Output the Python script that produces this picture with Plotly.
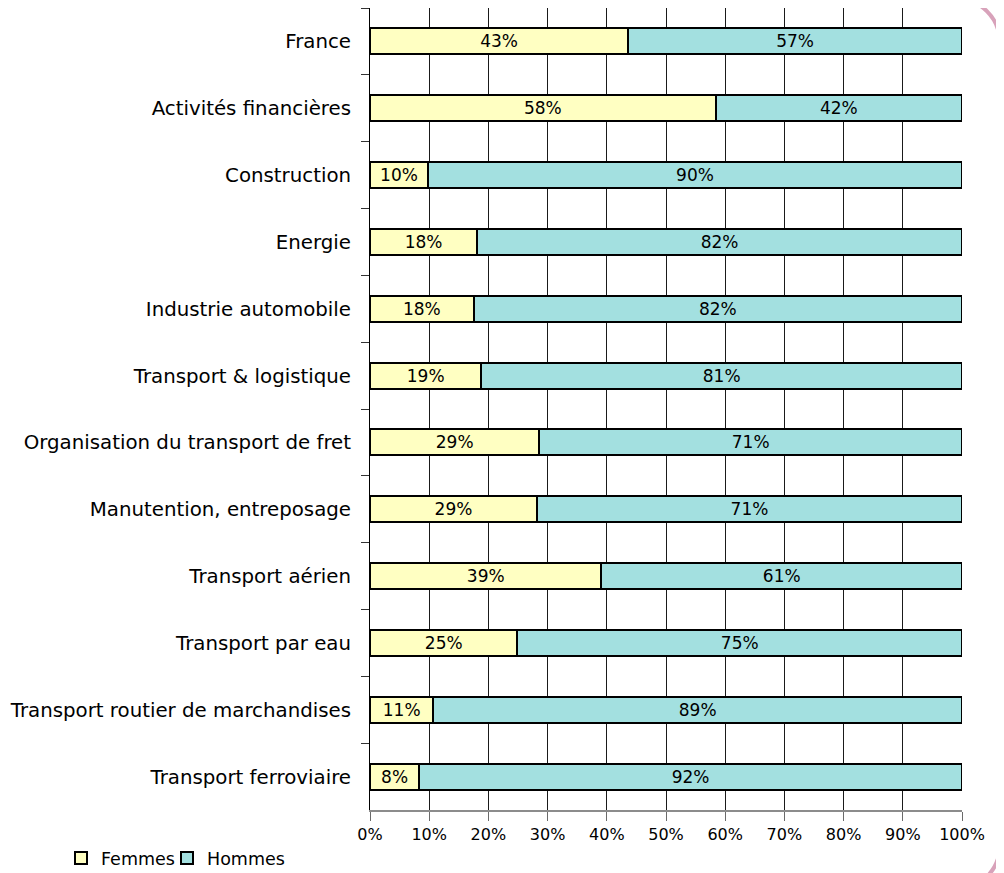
import plotly.graph_objects as go

categories = [
    "France",
    "Activités financières",
    "Construction",
    "Energie",
    "Industrie automobile",
    "Transport &amp; logistique",
    "Organisation du transport de fret",
    "Manutention, entreposage",
    "Transport aérien",
    "Transport par eau",
    "Transport routier de marchandises",
    "Transport ferroviaire",
]
femmes = [43.6, 58.4, 9.8, 18.1, 17.5, 18.8, 28.6, 28.2, 39.1, 24.9, 10.7, 8.3]
hommes = [100 - v for v in femmes]
femmes_labels = ["43%", "58%", "10%", "18%", "18%", "19%", "29%", "29%", "39%", "25%", "11%", "8%"]
hommes_labels = ["57%", "42%", "90%", "82%", "82%", "81%", "71%", "71%", "61%", "75%", "89%", "92%"]
x_ticks = list(range(0, 101, 10))

FONT = "DejaVu Sans"
OFF = 8  # page body margin
W, H = 996, 865
L, R, T, B = 362, 42, 0, 63
PW, PH = W - L - R, H - T - B

fig = go.Figure()
fig.add_trace(go.Bar(
    name="Femmes", y=categories, x=femmes, orientation="h",
    marker=dict(color="#FFFFC2", line=dict(color="#000000", width=2)),
    text=femmes_labels, textposition="inside", insidetextanchor="middle",
    textangle=0, textfont=dict(family=FONT, size=17, color="#000000"),
    constraintext="none", legend="legend",
))
fig.add_trace(go.Bar(
    name="Hommes", y=categories, x=hommes, orientation="h",
    marker=dict(color="#A3E0E0", line=dict(color="#000000", width=2)),
    text=hommes_labels, textposition="inside", insidetextanchor="middle",
    textangle=0, textfont=dict(family=FONT, size=17, color="#000000"),
    constraintext="none", legend="legend2",
))


def px(x):
    return (x - OFF - L) / PW


def py(y):
    return (H - B - (y - OFF)) / PH


# decorative rounded frame on the right edge (page pixel coordinates)
r = 45
top, bot, right = -2, 890, 1000
k = 0.5523 * r
path = (
    f"M {px(right - r - 200)},{py(top)} "
    f"L {px(right - r)},{py(top)} "
    f"C {px(right - r + k)},{py(top)} {px(right)},{py(top + r - k)} {px(right)},{py(top + r)} "
    f"L {px(right)},{py(bot - r)} "
    f"C {px(right)},{py(bot - r + k)} {px(right - r + k)},{py(bot)} {px(right - r)},{py(bot)} "
    f"L {px(right - r - 200)},{py(bot)}"
)

legend_common = dict(
    orientation="h", yanchor="middle", xanchor="left",
    font=dict(family=FONT, size=17.5, color="#000000"),
    itemwidth=30, bgcolor="rgba(0,0,0,0)",
)

fig.update_layout(
    width=W, height=H,
    barmode="stack", bargap=0.61,
    plot_bgcolor="white", paper_bgcolor="white",
    margin=dict(l=L, r=R, t=T, b=B, pad=0, autoexpand=False),
    font=dict(family=FONT, size=17, color="#000000"),
    showlegend=True,
    legend=dict(x=px(61), y=py(858), **legend_common),
    legend2=dict(x=px(167), y=py(858), **legend_common),
    shapes=[dict(
        type="path", xref="paper", yref="paper", path=path,
        line=dict(color="#D8A2BA", width=4), layer="above",
    )],
    xaxis=dict(
        range=[0, 100], tickvals=x_ticks, ticktext=[f"{v}%" for v in x_ticks],
        showgrid=True, gridcolor="#1a1a1a", gridwidth=1,
        zeroline=False, showline=True, linecolor="#8c8c8c", linewidth=2,
        ticks="outside", ticklen=9, tickcolor="#6a6a6a", tickwidth=1,
        tickfont=dict(family=FONT, size=16, color="#000000"),
        automargin=False,
    ),
    yaxis=dict(
        autorange="reversed", type="category",
        showgrid=False, zeroline=False,
        showline=True, linecolor="#000000", linewidth=1,
        ticks="outside", ticklen=8, tickcolor="#333333", tickson="boundaries",
        tickfont=dict(family=FONT, size=19.8, color="#000000"),
        ticklabelstandoff=14, automargin=False,
    ),
)

fig.write_html("out.html")
